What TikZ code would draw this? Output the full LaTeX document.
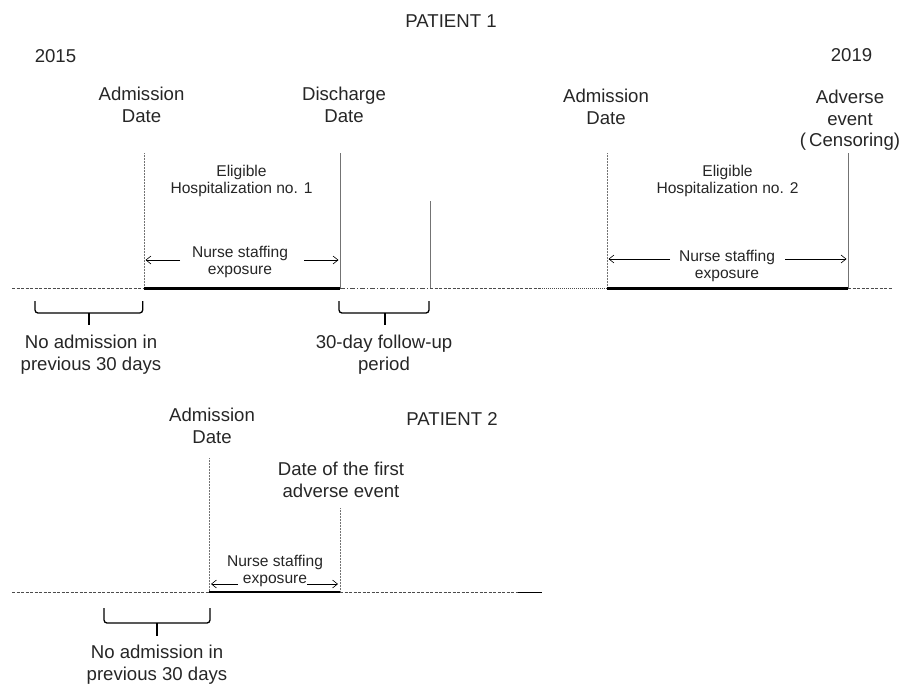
\documentclass[tikz,border=0pt]{standalone}
\usepackage{fontspec}
\setmainfont{Liberation Sans}
\usetikzlibrary{arrows.meta}
\begin{document}
\begin{tikzpicture}[x=1pt,y=-1pt,
  big/.style={font=\fontsize{18.6}{21.5}\selectfont,align=center,inner sep=0pt,anchor=north,text=black!85},
  small/.style={font=\fontsize{15.6}{16.5}\selectfont,align=center,inner sep=0pt,anchor=north,text=black!85},
  vline/.style={draw=black!55,line width=0.5pt},
  dline/.style={draw=black!70,line width=0.6pt,dash pattern=on 3pt off 1.5pt},
  dotline/.style={draw=black!70,line width=0.6pt,dash pattern=on 1pt off 1pt},
  ddline/.style={draw=black!70,line width=0.6pt,dash pattern=on 5pt off 2pt on 1pt off 2pt},
  thick line/.style={draw=black,line width=2.2pt},
  arr/.style={draw=black,line width=0.6pt,-{Straight Barb[length=5pt,width=8pt]}},
  brace/.style={draw=black,line width=1.3pt,rounded corners=3pt}
]
\useasboundingbox (0,0) rectangle (912,683);
% ---------- PATIENT 1 ----------
\node[big] (p1) at (451,15) {PATIENT 1};
\node[big] (y15) at (55.5,49) {2015};
\node[big] (y19) at (851.5,48) {2019};
\node[big] (ad1) at (141.5,87) {Admission\\Date};
\node[big] (dd1) at (344,87) {Discharge\\Date};
\node[big] (ad2) at (606,89) {Admission\\Date};
\node[big] (ae) at (850,90) {Adverse\\event\\(\,Censoring)};
\node[small] (el1) at (241.5,165) {Eligible\\Hospitalization no. 1};
\node[small] (el2) at (727.5,165) {Eligible\\Hospitalization no. 2};
\node[small] (ns1) at (240,246) {Nurse staffing\\exposure};
\node[small] (ns2) at (727,250) {Nurse staffing\\exposure};
% timeline points
\coordinate (t0) at (12,288.5);
\coordinate (a1) at (144,288.5);
\coordinate (d1) at (340,288.5);
\coordinate (f1) at (430,288.5);
\coordinate (m1) at (540,288.5);
\coordinate (a2) at (607,288.5);
\coordinate (e2) at (848,288.5);
\coordinate (tend) at (892,288.5);
\coordinate (a1t) at (144,153);
\coordinate (d1t) at (340,153);
\coordinate (f1t) at (430,201);
\coordinate (a2t) at (607,153);
\coordinate (e2t) at (848,153);
\draw[vline,densely dotted] (a1t) -- (a1);
\draw[vline] (d1t) -- (d1);
\draw[vline] (f1t) -- (f1);
\draw[vline,densely dotted] (a2t) -- (a2);
\draw[vline] (e2t) -- (e2);
\draw[dline] (t0) -- (a1);
\draw[thick line] (a1) -- (d1);
\draw[ddline] (d1) -- (f1);
\draw[dline] (f1) -- (m1);
\draw[dotline] (m1) -- (a2);
\draw[thick line] (a2) -- (e2);
\draw[dline] (e2) -- (tend);
% exposure arrows
\draw[arr] (180,260) -- (145.5,260);
\draw[arr] (304,260) -- (338.5,260);
\draw[arr] (670,259) -- (608.5,259);
\draw[arr] (785,259) -- (846.5,259);
% braces
\draw[brace] (35,301) -- (35,313) -- (142.7,313) -- (142.7,301);
\draw[brace] (89,313) -- (89,325);
\node[big] (no1) at (91,335) {No admission in\\previous 30 days};
\draw[brace] (339,301) -- (339,313) -- (429,313) -- (429,301);
\draw[brace] (385,313) -- (385,325);
\node[big] (fu) at (384,335) {30-day follow-up\\period};
% ---------- PATIENT 2 ----------
\node[big] (p2) at (452,412) {PATIENT 2};
\node[big] (ad3) at (212,408) {Admission\\Date};
\node[big] (fa) at (341,462) {Date of the first\\adverse event};
\coordinate (u0) at (12,592);
\coordinate (a3) at (209,592);
\coordinate (e3) at (340,592);
\coordinate (s3) at (518,592);
\coordinate (uend) at (542,592);
\coordinate (a3t) at (209,458);
\coordinate (e3t) at (340,508);
\draw[vline,densely dotted] (a3t) -- (a3);
\draw[vline,densely dotted] (e3t) -- (e3);
\draw[dline] (u0) -- (a3);
\draw[thick line] (a3) -- (e3);
\draw[dline] (e3) -- (s3);
\draw[draw=black,line width=0.8pt] (s3) -- (uend);
\node[small] (ns3) at (275,555) {Nurse staffing\\exposure};
\draw[arr] (238,584) -- (211,584);
\draw[arr] (307,584) -- (338,584);
\draw[brace] (104,608) -- (104,623) -- (210,623) -- (210,608);
\draw[brace] (157,623) -- (157,636);
\node[big] (no2) at (157,645) {No admission in\\previous 30 days};
\end{tikzpicture}
\end{document}
